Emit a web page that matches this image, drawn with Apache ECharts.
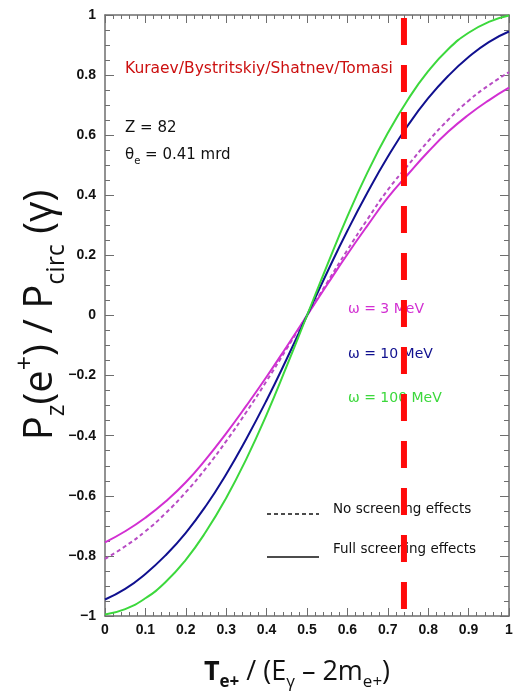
<!DOCTYPE html>
<html><head><meta charset="utf-8">
<script src="https://cdn.jsdelivr.net/npm/echarts@6/dist/echarts.min.js"></script>
<style>html,body{margin:0;padding:0;background:#fff}#c{width:518px;height:693px}</style>
</head><body><div id="c"></div>
<script>
// ---- data ----
const xValues      = [0,0.05,0.1,0.15,0.2,0.25,0.3,0.35,0.4,0.45,0.5,0.55,0.6,0.65,0.7,0.75,0.8,0.85,0.9,0.95,1];
const w3Full       = [-0.755,-0.718,-0.673,-0.619,-0.555,-0.478,-0.392,-0.3,-0.204,-0.103,0,0.103,0.204,0.3,0.392,0.47,0.545,0.612,0.668,0.716,0.758];
const w3NoScreen   = [-0.81,-0.768,-0.718,-0.658,-0.588,-0.508,-0.418,-0.321,-0.218,-0.11,0,0.11,0.218,0.321,0.418,0.5,0.58,0.652,0.715,0.766,0.81];
const w10Full      = [-0.945,-0.91,-0.86,-0.798,-0.723,-0.633,-0.528,-0.41,-0.282,-0.144,0,0.144,0.282,0.41,0.528,0.633,0.723,0.798,0.86,0.91,0.945];
const w100Full     = [-0.995,-0.977,-0.941,-0.887,-0.813,-0.719,-0.607,-0.477,-0.33,-0.168,0,0.168,0.33,0.477,0.607,0.719,0.813,0.887,0.941,0.977,0.998];
const cutX         = 0.74;
const xRange       = [0, 1];
const yRange       = [-1, 1];

const pairs = ys => xValues.map((x, i) => [x, ys[i]]);
const MAG = '#d22fd2', MAGD = '#b84cc4', BLUE = '#10108f', GREEN = '#3cd83c', RED = '#ff0a0a';
const AX = '#6e6e6e';
const fmtNum = v => String(+v.toFixed(2)).replace('-', '\u2212');

const chart = echarts.init(document.getElementById('c'), null, {renderer: 'canvas'});
const baseX = {
  type: 'value', min: xRange[0], max: xRange[1], interval: 0.1,
  axisLine: {show: true, onZero: false, lineStyle: {color: AX, width: 1.5}},
  axisTick: {show: true, inside: true, length: 8, lineStyle: {color: AX}},
  minorTick: {show: true, splitNumber: 5, length: 4, lineStyle: {color: AX}},
  splitLine: {show: false}
};
const baseY = {
  type: 'value', min: yRange[0], max: yRange[1], interval: 0.2,
  axisLine: {show: true, onZero: false, lineStyle: {color: AX, width: 1.5}},
  axisTick: {show: true, inside: true, length: 9, lineStyle: {color: AX}},
  minorTick: {show: true, splitNumber: 4, length: 5, lineStyle: {color: AX}},
  splitLine: {show: false}
};
const tickFont = {fontFamily: 'Liberation Sans', fontWeight: 'bold', fontSize: 14, color: '#111'};
const smoothOpt = {smooth: true, symbol: 'none'};

chart.setOption({
  animation: false,
  backgroundColor: '#fff',
  grid: {left: 105, right: 9, top: 15, bottom: 77, containLabel: false},
  xAxis: [
    Object.assign({}, baseX, {position: 'bottom', axisLabel: Object.assign({show: true, margin: 7, formatter: fmtNum}, tickFont)}),
    Object.assign({}, baseX, {position: 'top', axisLabel: {show: false}})
  ],
  yAxis: [
    Object.assign({}, baseY, {position: 'left', axisLabel: Object.assign({show: true, margin: 9, formatter: fmtNum}, tickFont)}),
    Object.assign({}, baseY, {position: 'right', axisLabel: {show: false}})
  ],
  series: [
    Object.assign({type: 'line', data: pairs(w3NoScreen), lineStyle: {color: MAGD, width: 2, type: [4, 3]}}, smoothOpt),
    Object.assign({type: 'line', data: pairs(w3Full), lineStyle: {color: MAG, width: 2}}, smoothOpt),
    Object.assign({type: 'line', data: pairs(w10Full), lineStyle: {color: BLUE, width: 2}}, smoothOpt),
    Object.assign({type: 'line', data: pairs(w100Full), lineStyle: {color: GREEN, width: 2}}, smoothOpt),
    {type: 'line', data: [[cutX, yRange[1]], [cutX, yRange[0]]], symbol: 'none', z: 10,
     lineStyle: {color: RED, width: 6, type: [27, 20], dashOffset: -3}}
  ],
  graphic: [
    {type: 'text', left: 125, top: 61, z: 0, style: {text: 'Kuraev/Bystritskiy/Shatnev/Tomasi', fill: '#cc1010', font: '15.5px "DejaVu Sans"'}},
    {type: 'text', left: 125, top: 121, z: 0, style: {text: 'Z = 82', fill: '#111', font: '15px "DejaVu Sans"'}},
    {type: 'text', left: 125, top: 148, z: 0, style: {
      text: '{n|\u03b8}{s|e}{n| = 0.41 mrd}',
      rich: {n: {fontFamily: 'DejaVu Sans', fontSize: 15, fill: '#111', color: '#111', lineHeight: 22},
             s: {fontFamily: 'DejaVu Sans', fontSize: 10, fill: '#111', color: '#111', lineHeight: 12, verticalAlign: 'bottom'}}}},
    {type: 'text', left: 348, top: 302, z: 0, style: {text: '\u03c9 = 3 MeV', fill: MAG, font: '14px "DejaVu Sans"'}},
    {type: 'text', left: 348, top: 347, z: 0, style: {text: '\u03c9 = 10 MeV', fill: BLUE, font: '14px "DejaVu Sans"'}},
    {type: 'text', left: 348, top: 391, z: 0, style: {text: '\u03c9 = 100 MeV', fill: GREEN, font: '14px "DejaVu Sans"'}},
    {type: 'line', z: 0, shape: {x1: 267, y1: 514, x2: 319, y2: 514}, style: {stroke: '#111', lineWidth: 1.5, lineDash: [4, 3]}},
    {type: 'text', left: 333, top: 502, z: 0, style: {text: 'No screening effects', fill: '#111', font: '13.5px "DejaVu Sans"'}},
    {type: 'line', z: 0, shape: {x1: 267, y1: 557, x2: 319, y2: 557}, style: {stroke: '#111', lineWidth: 1.5}},
    {type: 'text', left: 333, top: 542, z: 0, style: {text: 'Full screening effects', fill: '#111', font: '13.5px "DejaVu Sans"'}},
    {type: 'text', x: 297, y: 672, z: 0, style: {
      text: '{b|T}{bs|e+}{n| / (E}{s|\u03b3}{n| \u2013 2m}{s|e+}{n|)}',
      align: 'center', verticalAlign: 'middle',
      rich: {
        b: {fontFamily: 'Open Sans', fontWeight: 'bold', fontSize: 27, fill: '#111', color: '#111', lineHeight: 38},
        bs: {fontFamily: 'Open Sans', fontWeight: 'bold', fontSize: 17, fill: '#111', color: '#111', lineHeight: 19, verticalAlign: 'bottom'},
        n: {fontFamily: 'Open Sans', fontSize: 27, fill: '#111', color: '#111', lineHeight: 38},
        s: {fontFamily: 'Open Sans', fontSize: 17, fill: '#111', color: '#111', lineHeight: 19, verticalAlign: 'bottom'}
      }}},
    {type: 'text', x: 41, y: 315, rotation: Math.PI / 2, z: 0, style: {
      text: '{n|P}{s|z}{n|(e}{p|+}{n|) / P}{s|circ}{n| (\u03b3)}',
      align: 'center', verticalAlign: 'middle',
      rich: {
        n: {fontFamily: 'Open Sans', fontSize: 40, fill: '#111', color: '#111', lineHeight: 56},
        s: {fontFamily: 'Open Sans', fontSize: 25, fill: '#111', color: '#111', lineHeight: 28, verticalAlign: 'bottom'},
        p: {fontFamily: 'Open Sans', fontSize: 25, fill: '#111', color: '#111', lineHeight: 29, verticalAlign: 'top'}
      }}}
  ]
});
</script></body></html>
